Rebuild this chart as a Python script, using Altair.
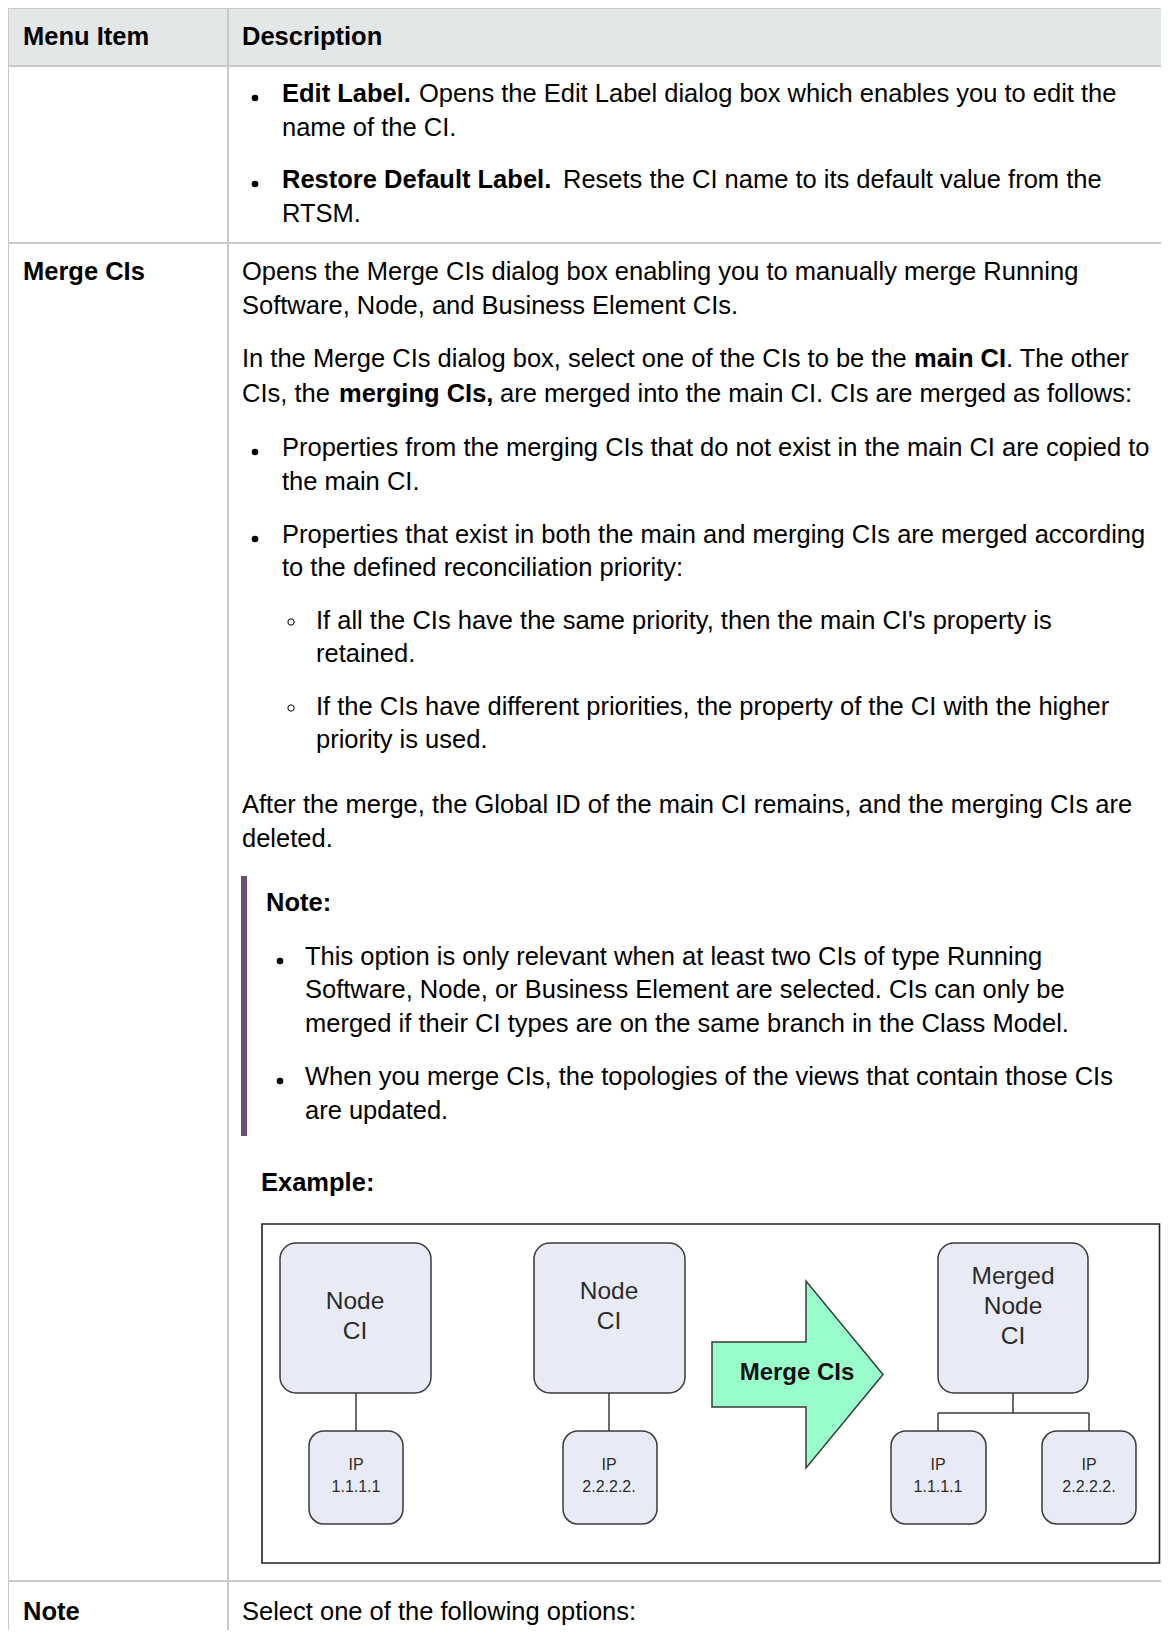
import altair as alt
import pandas as pd

# ---------------- content ----------------
FONT = "Liberation Sans, Arial, Helvetica, sans-serif"
BODY = 25.5

header_text = ["Menu Item", "Description"]
header_x = [23, 242]
header_y = [37, 37]

# regular body text: (text, x, y)
reg_text = [
    "Opens the Edit Label dialog box which enables you to edit the",
    "name of the CI.",
    "Resets the CI name to its default value from the",
    "RTSM.",
    "Opens the Merge CIs dialog box enabling you to manually merge Running",
    "Software, Node, and Business Element CIs.",
    "In the Merge CIs dialog box, select one of the CIs to be the",
    ". The other",
    "CIs, the",
    "are merged into the main CI. CIs are merged as follows:",
    "Properties from the merging CIs that do not exist in the main CI are copied to",
    "the main CI.",
    "Properties that exist in both the main and merging CIs are merged according",
    "to the defined reconciliation priority:",
    "If all the CIs have the same priority, then the main CI's property is",
    "retained.",
    "If the CIs have different priorities, the property of the CI with the higher",
    "priority is used.",
    "After the merge, the Global ID of the main CI remains, and the merging CIs are",
    "deleted.",
    "This option is only relevant when at least two CIs of type Running",
    "Software, Node, or Business Element are selected. CIs can only be",
    "merged if their CI types are on the same branch in the Class Model.",
    "When you merge CIs, the topologies of the views that contain those CIs",
    "are updated.",
    "Select one of the following options:",
]
reg_x = [419, 282, 563, 282, 242, 242, 242, 1006, 242, 500, 282, 282, 282, 282,
         316, 316, 316, 316, 242, 242, 305, 305, 305, 305, 305, 242]
reg_y = [94, 128, 180, 214, 272, 306, 359, 359, 394, 394, 448, 482, 535, 568,
         621, 654, 707, 740, 805, 839, 957, 990, 1024, 1077, 1111, 1612]

bold_text = ["Edit Label.", "Restore Default Label.", "Merge CIs", "main CI",
             "merging CIs,", "Note:", "Example:", "Note"]
bold_x = [282, 282, 23, 914, 339, 266, 261, 23]
bold_y = [94, 180, 272, 359, 394, 903, 1183, 1612]

# bullets
dot_x = [255, 255, 255, 255, 280, 280]
dot_y = [98, 184, 452, 539, 961, 1081]
ring_x = [291, 291]
ring_y = [622, 708]

# table structure
hrule_y = [8, 66, 243, 1581]
vrule_x = [8, 228]

# diagram boxes: big node boxes and small IP boxes
node_x1 = [280, 534, 938]
node_x2 = [431, 685, 1088]
node_y1 = [1243, 1243, 1243]
node_y2 = [1393, 1393, 1393]
ip_x1 = [309, 563, 891, 1042]
ip_x2 = [403, 657, 986, 1136]
ip_y1 = [1431, 1431, 1431, 1431]
ip_y2 = [1524, 1524, 1524, 1524]

node_label = ["Node", "CI", "Node", "CI", "Merged", "Node", "CI"]
node_lx = [355, 355, 609, 609, 1013, 1013, 1013]
node_ly = [1302, 1332, 1292, 1322, 1277, 1307, 1337]

ip_label = ["IP", "1.1.1.1", "IP", "2.2.2.2.", "IP", "1.1.1.1", "IP", "2.2.2.2."]
ip_lx = [356, 356, 609, 609, 938, 938, 1089, 1089]
ip_ly = [1465, 1487, 1465, 1487, 1465, 1487, 1465, 1487]

# connectors
con_x1 = [356, 609, 1013, 938, 938, 1089]
con_x2 = [356, 609, 1013, 1089, 938, 1089]
con_y1 = [1393, 1393, 1393, 1413, 1413, 1413]
con_y2 = [1431, 1431, 1413, 1413, 1431, 1431]

# arrow outline (x, top, bottom)
arrow_x = [712, 806, 806.01, 883]
arrow_top = [1342, 1342, 1281, 1374.5]
arrow_bot = [1407, 1407, 1468, 1374.5]

# ---------------- chart ----------------
W, H = 1153, 1622
X0, Y0 = 8, 8
XMAX, YMAX = X0 + W, Y0 + H
xs = alt.Scale(domain=[X0, XMAX], nice=False, zero=False)
ys = alt.Scale(domain=[Y0, YMAX], nice=False, zero=False, reverse=True)


def X(f="x"):
    return alt.X(f"{f}:Q", scale=xs, axis=None)


def Y(f="y"):
    return alt.Y(f"{f}:Q", scale=ys, axis=None)


header_bg = alt.Chart(pd.DataFrame({"x": [8], "x2": [XMAX], "y": [8], "y2": [66]})).mark_rect(
    color="#e4e7e8").encode(x=X(), x2="x2:Q", y=Y(), y2="y2:Q")

hrules = alt.Chart(pd.DataFrame({"y": hrule_y, "x": [8] * 4, "x2": [XMAX] * 4})).mark_rule(
    color="#c9c9c9", strokeWidth=2).encode(x=X(), x2="x2:Q", y=Y())
vrules = alt.Chart(pd.DataFrame({"x": vrule_x, "y": [8, 8], "y2": [YMAX, YMAX]})).mark_rule(
    color="#c9c9c9", strokeWidth=2).encode(x=X(), y=Y(), y2="y2:Q")

note_bar = alt.Chart(pd.DataFrame({"x": [241], "x2": [247], "y": [876], "y2": [1136]})).mark_rect(
    color="#6a5075").encode(x=X(), x2="x2:Q", y=Y(), y2="y2:Q")

diagram_frame = alt.Chart(pd.DataFrame({"x": [262], "x2": [XMAX - 1.5], "y": [1224], "y2": [1563]})).mark_rect(
    fill="white", stroke="#222222", strokeWidth=1.6).encode(x=X(), x2="x2:Q", y=Y(), y2="y2:Q")

connectors = alt.Chart(pd.DataFrame({"x": con_x1, "x2": con_x2, "y": con_y1, "y2": con_y2})).mark_rule(
    color="#3a3a3a", strokeWidth=1.5).encode(x=X(), x2="x2:Q", y=Y(), y2="y2:Q")

nodes = alt.Chart(pd.DataFrame({"x": node_x1, "x2": node_x2, "y": node_y1, "y2": node_y2})).mark_rect(
    fill="#e8ebf5", stroke="#3a3a3a", strokeWidth=1.5, cornerRadius=16).encode(
    x=X(), x2="x2:Q", y=Y(), y2="y2:Q")
ips = alt.Chart(pd.DataFrame({"x": ip_x1, "x2": ip_x2, "y": ip_y1, "y2": ip_y2})).mark_rect(
    fill="#e8ebf5", stroke="#3a3a3a", strokeWidth=1.5, cornerRadius=15).encode(
    x=X(), x2="x2:Q", y=Y(), y2="y2:Q")

arrow = alt.Chart(pd.DataFrame({"x": arrow_x, "y": arrow_top, "y2": arrow_bot})).mark_area(
    fill="#99fdcb", stroke="#3a3a3a", strokeWidth=1.5, opacity=1, interpolate="linear").encode(
    x=X(), y=Y(), y2="y2:Q")

arrow_text = alt.Chart(pd.DataFrame({"x": [797], "y": [1373], "t": ["Merge CIs"]})).mark_text(
    font=FONT, fontSize=24, fontWeight="bold", color="#111111", align="center", baseline="middle").encode(
    x=X(), y=Y(), text="t:N")

node_text = alt.Chart(pd.DataFrame({"x": node_lx, "y": node_ly, "t": node_label})).mark_text(
    font=FONT, fontSize=24.5, color="#2b2b2b", align="center", baseline="middle").encode(
    x=X(), y=Y(), text="t:N")

ip_text = alt.Chart(pd.DataFrame({"x": ip_lx, "y": ip_ly, "t": ip_label})).mark_text(
    font=FONT, fontSize=16, color="#2b2b2b", align="center", baseline="middle").encode(
    x=X(), y=Y(), text="t:N")

header = alt.Chart(pd.DataFrame({"x": header_x, "y": header_y, "t": header_text})).mark_text(
    font=FONT, fontSize=BODY, fontWeight="bold", color="#000000", align="left", baseline="middle").encode(
    x=X(), y=Y(), text="t:N")

regular = alt.Chart(pd.DataFrame({"x": reg_x, "y": reg_y, "t": reg_text})).mark_text(
    font=FONT, fontSize=BODY, color="#000000", align="left", baseline="middle").encode(
    x=X(), y=Y(), text="t:N")

bold = alt.Chart(pd.DataFrame({"x": bold_x, "y": bold_y, "t": bold_text})).mark_text(
    font=FONT, fontSize=BODY, fontWeight="bold", color="#000000", align="left", baseline="middle").encode(
    x=X(), y=Y(), text="t:N")

dots = alt.Chart(pd.DataFrame({"x": dot_x, "y": dot_y})).mark_circle(
    size=44, color="#000000", opacity=1).encode(x=X(), y=Y())

rings = alt.Chart(pd.DataFrame({"x": ring_x, "y": ring_y})).mark_point(
    shape="circle", size=40, filled=False, color="#000000", strokeWidth=1, opacity=1).encode(x=X(), y=Y())

chart = alt.layer(
    header_bg, hrules, vrules, note_bar, diagram_frame, connectors, nodes, ips, arrow,
    arrow_text, node_text, ip_text, header, regular, bold, dots, rings,
).properties(
    width=W, height=H, padding=0, autosize=alt.AutoSizeParams(type="none"),
    background="white",
).configure_view(stroke=None)

chart.save("out.html", embed_options={"renderer": "svg", "actions": False})
